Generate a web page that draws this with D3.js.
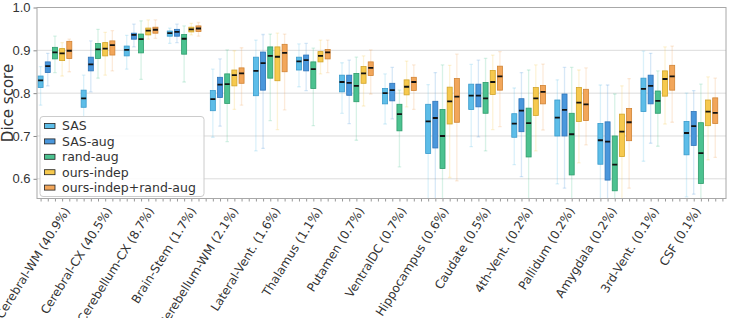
<!DOCTYPE html>
<html>
<head>
<meta charset="utf-8">
<script src="https://cdn.jsdelivr.net/npm/d3@7"></script>
<style>
  body { margin: 0; background: #fff; }
  svg { display: block; font-family: "DejaVu Sans", sans-serif; }
</style>
</head>
<body>
<svg id="chart" width="729" height="318"></svg>
<script>
// categories (structure + volume share)
const categories = ['Cerebral-WM (40.9%)', 'Cerebral-CX (40.5%)', 'Cerebellum-CX (8.7%)', 'Brain-Stem (1.7%)',
	'Cerebellum-WM (2.1%)', 'Lateral-Vent. (1.6%)', 'Thalamus (1.1%)', 'Putamen (0.7%)', 'VentralDC (0.7%)',
	'Hippocampus (0.6%)', 'Caudate (0.5%)', '4th-Vent. (0.2%)', 'Pallidum (0.2%)', 'Amygdala (0.2%)',
	'3rd-Vent. (0.1%)', 'CSF (0.1%)'];

const seriesNames = ['SAS', 'SAS-aug', 'rand-aug', 'ours-indep', 'ours-indep+rand-aug'];
const fills = ['#5dbde8', '#4a97dc', '#4cc290', '#f6c94e', '#f2a65a'];
const strokes = ['#3a9bcc', '#2f74b8', '#2e9c6c', '#d2a428', '#d08334'];

const yTicks = [0.6, 0.7, 0.8, 0.9, 1.0];

// [whisker low, q1, median, q3, whisker high]
const sas = [
	[0.772, 0.813, 0.830, 0.840, 0.862], [0.745, 0.767, 0.788, 0.807, 0.842],
	[0.856, 0.887, 0.901, 0.910, 0.935], [0.916, 0.933, 0.940, 0.945, 0.952],
	[0.697, 0.759, 0.786, 0.806, 0.856], [0.665, 0.794, 0.852, 0.884, 0.924],
	[0.815, 0.854, 0.874, 0.884, 0.915], [0.753, 0.803, 0.826, 0.842, 0.871],
	[0.728, 0.775, 0.800, 0.811, 0.845], [0.520, 0.659, 0.734, 0.774, 0.820],
	[0.675, 0.762, 0.794, 0.821, 0.867], [0.633, 0.697, 0.729, 0.752, 0.812],
	[0.588, 0.700, 0.743, 0.784, 0.831], [0.520, 0.634, 0.690, 0.729, 0.819],
	[0.641, 0.757, 0.810, 0.835, 0.898], [0.558, 0.656, 0.707, 0.734, 0.800]
];
const sasAug = [
	[0.817, 0.848, 0.863, 0.873, 0.893], [0.803, 0.852, 0.867, 0.884, 0.922],
	[0.908, 0.926, 0.936, 0.940, 0.961], [0.918, 0.933, 0.943, 0.949, 0.961],
	[0.723, 0.790, 0.820, 0.837, 0.880], [0.671, 0.807, 0.870, 0.896, 0.937],
	[0.806, 0.852, 0.877, 0.889, 0.916], [0.729, 0.795, 0.824, 0.842, 0.877],
	[0.740, 0.782, 0.807, 0.823, 0.860], [0.520, 0.672, 0.742, 0.781, 0.848],
	[0.698, 0.768, 0.794, 0.821, 0.877], [0.605, 0.710, 0.759, 0.787, 0.848],
	[0.578, 0.700, 0.761, 0.798, 0.860], [0.520, 0.597, 0.687, 0.733, 0.819],
	[0.683, 0.775, 0.817, 0.842, 0.893], [0.564, 0.678, 0.723, 0.757, 0.806]
];
const randAug = [
	[0.848, 0.880, 0.895, 0.907, 0.933], [0.835, 0.881, 0.902, 0.916, 0.949],
	[0.832, 0.894, 0.926, 0.938, 0.969], [0.826, 0.891, 0.927, 0.937, 0.957],
	[0.687, 0.776, 0.821, 0.845, 0.901], [0.736, 0.835, 0.887, 0.908, 0.938],
	[0.724, 0.811, 0.856, 0.873, 0.905], [0.690, 0.780, 0.817, 0.846, 0.884],
	[0.628, 0.712, 0.751, 0.774, 0.807], [0.500, 0.624, 0.700, 0.762, 0.866],
	[0.665, 0.753, 0.788, 0.825, 0.881], [0.500, 0.651, 0.730, 0.765, 0.854],
	[0.500, 0.609, 0.704, 0.753, 0.860], [0.500, 0.572, 0.633, 0.700, 0.798],
	[0.676, 0.753, 0.782, 0.805, 0.852], [0.500, 0.589, 0.660, 0.731, 0.821]
];
const oursIndep = [
	[0.840, 0.876, 0.893, 0.904, 0.918], [0.842, 0.887, 0.904, 0.918, 0.942],
	[0.926, 0.936, 0.946, 0.952, 0.971], [0.936, 0.943, 0.949, 0.954, 0.963],
	[0.762, 0.817, 0.842, 0.854, 0.899], [0.715, 0.829, 0.885, 0.908, 0.940],
	[0.845, 0.873, 0.887, 0.897, 0.924], [0.770, 0.823, 0.846, 0.862, 0.887],
	[0.768, 0.796, 0.815, 0.831, 0.875], [0.603, 0.728, 0.781, 0.814, 0.865],
	[0.715, 0.797, 0.826, 0.853, 0.889], [0.665, 0.748, 0.788, 0.813, 0.866],
	[0.637, 0.734, 0.778, 0.813, 0.854], [0.540, 0.652, 0.710, 0.751, 0.817],
	[0.728, 0.793, 0.833, 0.852, 0.908], [0.644, 0.724, 0.757, 0.784, 0.838]
];
const oursIndepRandAug = [
	[0.850, 0.881, 0.899, 0.921, 0.926], [0.852, 0.889, 0.912, 0.922, 0.946],
	[0.928, 0.940, 0.948, 0.954, 0.971], [0.933, 0.944, 0.951, 0.957, 0.965],
	[0.772, 0.823, 0.846, 0.859, 0.906], [0.761, 0.850, 0.894, 0.914, 0.938],
	[0.848, 0.880, 0.895, 0.902, 0.924], [0.798, 0.841, 0.859, 0.873, 0.901],
	[0.762, 0.806, 0.826, 0.837, 0.866], [0.595, 0.732, 0.792, 0.834, 0.891],
	[0.722, 0.807, 0.839, 0.863, 0.897], [0.714, 0.775, 0.803, 0.818, 0.868],
	[0.679, 0.736, 0.774, 0.809, 0.859], [0.578, 0.689, 0.732, 0.764, 0.834],
	[0.732, 0.807, 0.839, 0.865, 0.910], [0.650, 0.729, 0.754, 0.789, 0.835]
];

const allSeries = [sas, sasAug, randAug, oursIndep, oursIndepRandAug];

const margin = {top: 7.5, right: 3, bottom: 119.5, left: 37};
const width = 729;
const height = 318;
const innerW = width - margin.left - margin.right;
const innerH = height - margin.top - margin.bottom;

// each category gets 6 slots: 5 boxes + a gap
const slots = categories.length * 6;
const x = d3.scaleLinear().domain([0.5, slots + 0.5]).range([0, innerW]);
const y = d3.scaleLinear().domain([0.554, 1.0]).range([innerH, 0]);
const step = x(2) - x(1);
const boxW = step * 0.7;

// label anchor positions (in slot units)
const labelPos = d3.range(categories.length).map(i => 5.3 + i * 5.86);

const svg = d3.select('#chart');
const g = svg.append('g').attr('transform', `translate(${margin.left},${margin.top})`);

svg.append('defs').append('clipPath').attr('id', 'clip')
	.append('rect').attr('width', innerW).attr('height', innerH);

// grid
g.append('g').selectAll('line')
	.data(yTicks.slice(0, -1))
	.enter().append('line')
	.attr('x1', 0).attr('x2', innerW)
	.attr('y1', d => y(d)).attr('y2', d => y(d))
	.attr('stroke', '#dcdcdc').attr('stroke-width', 1);

// y axis
let yAxis = g.append('g')
	.call(d3.axisLeft(y).tickValues(yTicks).tickFormat(d3.format('.1f')).tickSize(3.5).tickPadding(3));
yAxis.select('.domain').remove();
yAxis.selectAll('line').attr('stroke', '#888');
yAxis.selectAll('text').attr('font-size', 13).attr('fill', '#333');

// x axis minor ticks (one per slot)
let xAxis = g.append('g')
	.attr('transform', `translate(0,${innerH})`)
	.call(d3.axisBottom(x).tickValues(d3.range(1, slots + 1)).tickSize(3).tickFormat(''));
xAxis.select('.domain').remove();
xAxis.selectAll('line').attr('stroke', '#999');

// x labels
g.append('g').selectAll('text')
	.data(categories)
	.enter().append('text')
	.attr('transform', (d, i) => `translate(${x(labelPos[i]) - 1},${innerH + 12}) rotate(-58)`)
	.attr('text-anchor', 'end')
	.attr('font-size', 12)
	.attr('fill', '#333')
	.text(d => d);

// boxes
let plot = g.append('g').attr('clip-path', 'url(#clip)');

let boxData = [];
allSeries.forEach((series, s) => {
	series.forEach((st, c) => {
		boxData.push({s, c, pos: c * 6 + s + 1, lo: st[0], q1: st[1], med: st[2], q3: st[3], hi: st[4]});
	});
});

let boxes = plot.selectAll('g.box')
	.data(boxData)
	.enter().append('g').attr('class', 'box');

// whiskers
boxes.append('line')
	.attr('x1', d => x(d.pos)).attr('x2', d => x(d.pos))
	.attr('y1', d => y(d.lo)).attr('y2', d => y(d.hi))
	.attr('stroke', d => fills[d.s]).attr('stroke-opacity', 0.22).attr('stroke-width', 1.3);
boxes.selectAll('line.cap')
	.data(d => [d.lo, d.hi].map(v => ({v, d})))
	.enter().append('line').attr('class', 'cap')
	.attr('x1', e => x(e.d.pos) - boxW * 0.35).attr('x2', e => x(e.d.pos) + boxW * 0.35)
	.attr('y1', e => y(e.v)).attr('y2', e => y(e.v))
	.attr('stroke', e => fills[e.d.s]).attr('stroke-opacity', 0.22).attr('stroke-width', 1.3);

boxes.append('rect')
	.attr('x', d => x(d.pos) - boxW / 2)
	.attr('width', boxW)
	.attr('y', d => y(d.q3))
	.attr('height', d => y(d.q1) - y(d.q3))
	.attr('fill', d => fills[d.s])
	.attr('stroke', d => strokes[d.s])
	.attr('stroke-width', 0.8);

boxes.append('line')
	.attr('x1', d => x(d.pos) - boxW / 2).attr('x2', d => x(d.pos) + boxW / 2)
	.attr('y1', d => y(d.med)).attr('y2', d => y(d.med))
	.attr('stroke', '#111').attr('stroke-width', 1.8);

// frame
g.append('rect')
	.attr('width', innerW).attr('height', innerH)
	.attr('fill', 'none').attr('stroke', '#a8a8a8').attr('stroke-width', 1);

// y label
svg.append('text')
	.attr('transform', `translate(12.5,${margin.top + innerH / 2}) rotate(-90)`)
	.attr('text-anchor', 'middle')
	.attr('font-size', 15)
	.attr('fill', '#333')
	.text('Dice score');

// legend
let legend = g.append('g').attr('transform', 'translate(3,109)');
legend.append('rect')
	.attr('width', 164).attr('height', 80).attr('rx', 3)
	.attr('fill', 'white').attr('fill-opacity', 0.85)
	.attr('stroke', '#cccccc');

let items = legend.selectAll('g.item')
	.data(seriesNames)
	.enter().append('g').attr('class', 'item')
	.attr('transform', (d, i) => `translate(0,${9.5 + i * 15.4})`);
items.append('rect')
	.attr('x', 4.5).attr('y', -2.5).attr('width', 10.5).attr('height', 5)
	.attr('fill', (d, i) => fills[i]).attr('stroke', '#222').attr('stroke-width', 0.8);
items.append('text')
	.attr('x', 22).attr('dy', '0.35em')
	.attr('font-size', 12.5).attr('fill', '#333')
	.text(d => d);
</script>
</body>
</html>
